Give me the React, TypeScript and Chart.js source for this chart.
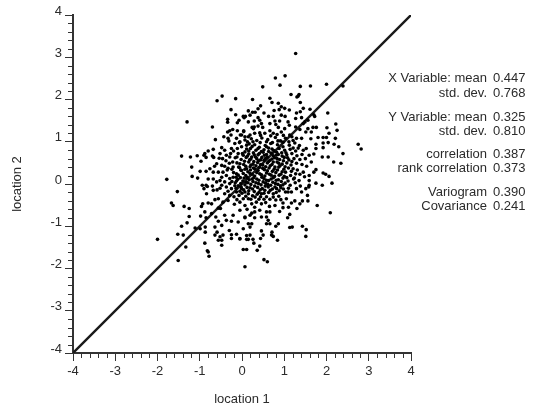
import React, { useEffect, useRef } from "react";
import { Chart, registerables } from "chart.js";

Chart.register(...registerables);

const upperLeftSamples: [number, number][] = [
  [-.47,2.08],[-.59,1.97],[-.15,2.02],[-.26,1.76],[-.15,1.64],[.15,1.73],[.08,1.6],[.05,1.57],[-1.3,1.47],[-.34,1.53],[-.34,1.46],[-.07,1.51],[-.11,1.45],[.15,1.47],[-.7,1.35],[-.22,1.29],[-.29,1.26],[-.11,1.26],[.04,1.24],[-.34,1.23],[-.43,1.12],[-.33,1.08],[-.26,1.16],[-.04,1.16],[-.13,1.08],[.15,1.12],[-.63,1.05],[-.17,.96],[-.05,1],[.07,1.04],[-.01,.88],[.11,.92],[-.8,.78],[-.88,.72],[-.68,.82],[-.48,.86],[-.41,.8],[-.25,.84],[-.11,.84],[-.52,.72],[-.7,.66],[-.67,.63],[-.37,.68],[-.29,.64],[-.09,.72],[.03,.68],[-1.43,.66],[-1.22,.64],[-1.06,.67],[-.9,.68],[-.85,.63],[-.54,.61],
];

const upperRightSamples: [number, number][] = [
  [1.27,3.09],[1.02,2.56],[.79,2.51],[.9,2.34],[.49,2.3],[1.38,2.31],[1.62,2.32],[2,2.36],[2.39,2.32],[1.16,2.12],[1.33,2.08],[1.35,2.12],[1.3,2.06],[.25,2],[.66,2.03],[.71,1.93],[1.38,1.93],[.86,1.91],[.44,1.85],[.38,1.78],[.93,1.83],[1.01,1.79],[.76,1.74],[.88,1.76],[1.45,1.79],[1.12,1.75],[1.29,1.68],[1.38,1.71],[1.61,1.77],[1.7,1.64],[1.72,1.6],[2.03,1.68],[.19,1.63],[.25,1.7],[.31,1.7],[.52,1.68],[.38,1.57],[.03,1.6],[.63,1.6],[.74,1.6],[.93,1.63],[1.02,1.6],[1.27,1.55],[1.41,1.57],[.29,1.49],[.42,1.51],[.46,1.43],[.78,1.49],[.8,1.41],[1.09,1.47],[.89,1.49],[1.49,1.47],[1.45,1.43],[1.56,1.51],[.29,1.35],[.24,1.34],[.27,1.31],[.38,1.37],[.49,1.34],[.66,1.43],[.86,1.34],[1.01,1.31],[1.12,1.39],[1.27,1.35],[1.37,1.29],[1.56,1.31],[1.68,1.34],[1.76,1.34],[2.01,1.33],[2.22,1.42],[2.25,1.27],[.04,1.26],[.66,1.26],[.74,1.2],[.42,1.21],[.54,1.2],[.19,1.16],[.3,1.2],[-.01,1.16],[.07,1.12],[.93,1.23],[1.13,1.16],[1.29,1.08],[1.41,1.08],[1.51,1.23],[1.64,1.23],[1.8,1.1],[1.92,1.1],[2,1.1],[2.06,1.2],[1.63,1.07],[2.21,1.08],[1.75,.94],[1.92,.97],[2.04,.98],[2.18,.94],[2.29,.88],[2.75,.94],[2.82,.83],[2.39,.72],[1.75,.84],[1.92,.86],[1.7,.71],[1.59,.68],[1.9,.64],[2.04,.64],[1.45,.8],[1.52,.84],
];

const lowerLeftSamples: [number, number][] = [
  [-.97,.54],[-1.19,.4],[-.99,.3],[-1.18,.18],[-1.05,.14],[-1.78,.11],[-.85,.3],[-.76,.36],[-.68,.28],[-.56,.28],[-.45,.28],[-.48,.44],[-.41,.42],[-.3,.49],[-.8,.12],[-.68,.12],[-.48,.16],[-.37,.2],[-.94,-.03],[-.85,-.03],[-.9,-.11],[-.82,-.06],[-1.53,-.18],[-.84,-.23],[-.68,-.15],[-.59,-.14],[-.48,-.03],[-.37,-.07],[-.29,.01],[-.21,.16],[-.13,.24],[-.01,.32],[.11,.36],[-.21,.4],[-.05,.48],[-.52,.08],[-.41,.05],[-1.67,-.45],[-1.63,-.51],[-1.37,-.53],[-1.25,-.58],[-.93,-.47],[-.96,-.53],[-.8,-.45],[-.72,-.47],[-.64,-.37],[-.56,-.35],[-.45,-.43],[-.33,-.39],[-.56,-.57],[-.51,-.58],[-.29,-.27],[-.13,-.19],[-.01,-.11],[-.41,-.23],[-.25,-.11],[.07,-.19],[.15,-.35],[-.88,-.66],[-.72,-.7],[-.62,-.78],[-1.25,-.77],[-1.3,-.92],[-1.43,-1],[-.98,-.76],[-.85,-.8],[-.41,-.74],[-.37,-.86],[-.25,-.88],[-.21,-.74],[-.09,-.9],[.07,-.78],[-.56,-.88],[-.48,-.98],[-.64,-1.02],[-.59,-1.14],[-1.11,-1.04],[-.99,-1.06],[-.87,-1.02],[-.87,-1.14],[-.3,-1.1],[-.25,-1.2],[-.25,-1.29],[-.13,-1.19],[-.05,-1.29],[.11,-1.22],[.11,-1.31],[-1.52,-1.19],[-1.39,-1.21],[-2,-1.31],[-.64,-1.21],[-.56,-1.33],[-.48,-1.33],[-.45,-1.21],[-.52,-1.25],[-.88,-1.4],[-.48,-1.45],[-1.33,-1.49],[-.82,-1.58],[-.8,-1.61],[-.78,-1.71],[.03,-1.55],[.11,-1.55],[-1.51,-1.81],[.07,-1.96],
];

const lowerRightSamples: [number, number][] = [
  [2.17,.52],[2.34,.49],[1.64,.52],[1.75,.34],[1.92,.26],[1.98,.23],[2.06,.18],[1.7,.28],[1.59,.2],[1.75,.02],[1.9,-.03],[2.13,.02],[1.59,.08],[1.59,-.03],[1.45,.28],[1.37,.23],[1.21,.36],[1.29,-.11],[1.41,-.19],[1.51,-.11],[1.58,-.07],[1.55,-.27],[1.56,-.4],[1.78,-.51],[2.09,-.68],[1.3,-.58],[1.37,-.47],[1.43,-.4],[1.17,-.45],[1.25,-.4],[.89,-.65],[1.13,-.72],[1.08,-.8],[.78,-.51],[.58,-.66],[.66,-.66],[.42,-.62],[.3,-.66],[.23,-.69],[.19,-.74],[.46,-.78],[.58,-.78],[.62,-.86],[.66,-.94],[.58,-.94],[.07,-.8],[.3,-.8],[.15,-.94],[.23,-.94],[.03,-1.06],[.19,-1.02],[.86,-.94],[.8,-1],[1.13,-1.03],[1.19,-1.02],[1.43,-1],[1.52,-1.08],[1.51,-1.24],[.46,-1.11],[.71,-1.14],[.7,-1.21],[.74,-1.24],[.5,-1.21],[.44,-1.29],[.84,-1.33],[.19,-1.21],[.15,-1.31],[.26,-1.31],[.28,-1.4],[-.05,-1.3],[.42,-1.47],[.36,-1.57],[.52,-1.79],[.6,-1.84],[1.03,-.19],[1.09,-.19],[1.17,-.19],[.97,-.45],[1.05,-.35],[.82,-.11],[.74,-.23],[.74,-.31],[.54,-.15],[.46,-.23],[.34,-.43],[.3,-.55],[.46,-.47],[.23,-.47],[.07,-.51],[.03,-.35],[.15,-.23],[-.05,-.43],[-.05,-.62],
];

const centralSamples: [number, number][] = [
  [-.31,1.02],[.22,1.07],[.35,1.03],[.47,1.09],[.61,1.05],[.79,1.1],[.91,1.02],[1.03,1.08],[1.21,1.03],[-.06,.98],[.17,.95],[.3,.93],[.43,.98],[.55,.91],[.68,.96],[.84,.93],[.97,.99],[1.12,.92],[1.25,.97],[1.36,.91],[-.2,.78],[.2,.84],[.33,.8],[.41,.87],[.52,.81],[.63,.85],[.75,.79],[.88,.84],[1.01,.8],[1.14,.82],[1.27,.78],[1.33,.85],[.07,.76],[.16,.71],[.27,.74],[.38,.69],[.5,.75],[.58,.7],[.69,.73],[.81,.68],[.94,.74],[1.06,.69],[1.18,.72],[1.3,.67],[1.42,.7],[-.16,.62],[-.02,.58],[.1,.63],[.21,.59],[.32,.64],[.44,.57],[.56,.61],[.66,.56],[.77,.62],[.89,.58],[1,.63],[1.11,.57],[1.23,.6],[1.37,.58],[1.5,.6],[-.38,.55],[-.12,.5],[.04,.46],[.16,.52],[.26,.47],[.37,.51],[.49,.45],[.6,.5],[.71,.46],[.83,.52],[.95,.47],[1.06,.5],[1.16,.45],[1.29,.49],[1.42,.46],[1.53,.42],[-.33,.37],[-.06,.39],[.19,.41],[.3,.36],[.41,.39],[.53,.34],[.64,.38],[.76,.35],[.87,.4],[.99,.35],[1.1,.38],[1.31,.33],[-.2,.27],[.03,.25],[.14,.29],[.24,.23],[.35,.27],[.46,.22],[.58,.26],[.69,.21],[.8,.27],[.92,.23],[1.03,.28],[1.15,.2],[1.27,.24],[1.48,.17],[-.29,.13],[-.1,.11],[.05,.14],[.17,.1],[.28,.15],[.4,.09],[.52,.13],[.63,.08],[.74,.15],[.86,.1],[.97,.14],[1.09,.07],[1.22,.12],[1.35,.08],[-.16,.03],[-.03,.01],[.1,.04],[.21,-.01],[.33,.03],[.45,-.02],[.56,.02],[.68,-.03],[.79,.01],[.91,-.04],[1.02,.02],[1.14,-.03],[1.26,.03],[1.38,-.05],[-.09,-.04],[.12,-.08],[.25,-.12],[.37,-.08],[.48,-.11],[.62,-.07],[.72,-.12],[.92,-.09],[1.1,-.1],[-.19,-.3],[-.07,-.27],[.25,-.28],[.36,-.24],[.58,-.3],[.66,-.36],[.87,-.29],[.92,-.37],[-.18,-.48],[.12,-.6],[.4,-.36],[.56,-.44],[.65,-.53],[.97,-.56],[1.1,-.55],
];

const coreSamples: [number, number][] = [
  [.11,.83],[.24,.89],[.38,.84],[.46,.77],[.58,.88],[.71,.83],[.82,.75],[.16,.78],[.29,.69],[.41,.72],[.53,.68],[.63,.77],[.74,.67],[.86,.7],[.01,.72],[.13,.66],[.23,.64],[.35,.6],[.47,.63],[.6,.64],[.71,.59],[.83,.6],[.95,.66],[.06,.54],[.18,.57],[.28,.53],[.39,.55],[.52,.56],[.63,.53],[.74,.52],[.87,.49],[.98,.55],[.09,.42],[.21,.45],[.33,.43],[.44,.46],[.56,.41],[.67,.43],[.78,.4],[.9,.43],[1.02,.41],[-.03,.33],[.07,.35],[.2,.33],[.27,.38],[.38,.32],[.49,.37],[.6,.31],[.72,.3],[.84,.33],[.95,.29],[-.09,.21],[.09,.2],[.19,.25],[.3,.19],[.42,.24],[.54,.19],[.65,.23],[.77,.18],[.88,.21],[1,.18],[-.04,.15],[.12,.15],[.24,.12],[.35,.12],[.47,.16],[.58,.09],[.69,.12],[.81,.09],[.93,.06],[-.13,.07],[.02,.07],[.14,.03],[.26,.06],[.39,.01],[.5,.05],[.61,-.01],[.73,.04],[.85,-.01],[.97,-.02],[-.02,-.07],[.07,-.02],[.19,-.09],[.3,-.05],[.43,-.14],[.55,-.05],[.67,-.15],[.78,-.07],[.88,-.16],[-.14,-.1],[.04,-.14],[.16,-.16],[.29,-.18],[.4,-.2],[.52,-.22],[.63,-.2],[.81,-.2],[.98,-.12],[.09,-.29],[.21,-.36],[.31,-.31],[.44,-.3],[.52,-.36],[.8,-.38],[-.12,-.37],[.0,-.22],[1.17,.3],[1.24,.14],[1.06,.15],[1.18,.53],[1.08,.62],[1.04,.74],[1.21,.85],[1.11,1.0],[.97,.88],[.85,1.02],[.72,.98],[.58,1.0],[.44,1.15],[.13,1.0],[.26,1.0],[.68,1.14],[.83,1.17],[.98,1.15],[1.18,1.12],[-.22,.52],[-.27,.72],[-.12,.64],[-.08,.4],[-.24,.35],[-.14,.16],[-.24,.06],[-.35,.33],[-.46,.6],[-.6,.48],[-.65,.42],[-.6,.05],[-.52,-.1],[-.7,-.05],[-.33,-.17],[-.17,-.04],[-.05,-.17],
];

const allSamples = [...upperLeftSamples, ...upperRightSamples, ...lowerLeftSamples, ...lowerRightSamples, ...centralSamples, ...coreSamples];

const referenceLine: [number, number][] = [[-4, -4], [4, 4]];
const minorTicks = [-3.8,-3.6,-3.4,-3.2,-2.8,-2.6,-2.4,-2.2,-1.8,-1.6,-1.4,-1.2,-.8,-.6,-.4,-.2,.2,.4,.6,.8,1.2,1.4,1.6,1.8,2.2,2.4,2.6,2.8,3.2,3.4,3.6,3.8];

const statLabels = ["X Variable: mean","std. dev.","Y Variable: mean","std. dev.","correlation","rank correlation","Variogram","Covariance"];
const statValues = ["0.447","0.768","0.325","0.810","0.387","0.373","0.390","0.241"];
const statRows = [78, 93, 117, 131, 154, 168, 192, 206];

const FONT = '"Liberation Sans", Arial, sans-serif';
const INK = "#2b2b2b";

const overlay = {
  id: "overlay",
  afterDraw(chart: any) {
    const { ctx, scales } = chart;
    const { x, y } = scales;
    ctx.save();
    ctx.strokeStyle = "#333";
    ctx.lineWidth = 1;
    ctx.beginPath();
    for (const v of minorTicks) {
      const px = Math.round(x.getPixelForValue(v)) + 0.5;
      ctx.moveTo(px, x.top);
      ctx.lineTo(px, x.top + 5);
      const py = Math.round(y.getPixelForValue(v)) + 0.5;
      ctx.moveTo(y.right, py);
      ctx.lineTo(y.right - 5, py);
    }
    ctx.stroke();
    ctx.font = `13px ${FONT}`;
    ctx.fillStyle = INK;
    ctx.textBaseline = "middle";
    statLabels.forEach((t, i) => {
      ctx.textAlign = "right";
      ctx.fillText(t, 487, statRows[i]);
      ctx.textAlign = "left";
      ctx.fillText(statValues[i], 493, statRows[i]);
    });
    ctx.restore();
  },
};

export default function App() {
  const ref = useRef<HTMLCanvasElement>(null);
  useEffect(() => {
    document.body.style.margin = "0";
    const axis = (label: string, extra: any) => ({
      type: "linear",
      min: -4,
      max: 4,
      border: { color: "#333", width: 2 },
      grid: { drawOnChartArea: false, drawTicks: true, tickLength: 8, tickColor: "#333", tickWidth: 1 },
      title: { display: true, text: label, color: INK, font: { family: FONT, size: 13 }, ...extra.title },
      ticks: { stepSize: 1, color: INK, font: { family: FONT, size: 13 }, maxRotation: 0, autoSkip: false, ...extra.ticks },
      afterFit: extra.afterFit,
    });
    const chart = new Chart(ref.current!, {
      type: "scatter",
      data: {
        datasets: [
          {
            data: allSamples.map(([x, y]) => ({ x, y })),
            backgroundColor: "#000",
            borderWidth: 0,
            pointRadius: 1.8,
          },
          {
            type: "line",
            data: referenceLine.map(([x, y]) => ({ x, y })),
            borderColor: "#1a1a1a",
            borderWidth: 2.4,
            pointRadius: 0,
            showLine: true,
          },
        ],
      } as any,
      options: {
        animation: false,
        responsive: false,
        layout: { padding: { left: 0, right: 122, top: 15, bottom: 0 } },
        plugins: { legend: { display: false }, tooltip: { enabled: false } },
        scales: {
          x: axis("location 1", {
            title: { padding: { top: 4, bottom: 4 } },
            ticks: { padding: 3 },
            afterFit: (s: any) => { s.height = 58; },
          }),
          y: axis("location 2", {
            title: { padding: { top: 10, bottom: 4 } },
            ticks: { padding: 3, labelOffset: -4 },
            afterFit: (s: any) => { s.width = 73; },
          }),
        } as any,
      },
      plugins: [overlay],
    });
    return () => chart.destroy();
  }, []);
  return <canvas ref={ref} width={533} height={411} style={{ display: "block" }} />;
}
